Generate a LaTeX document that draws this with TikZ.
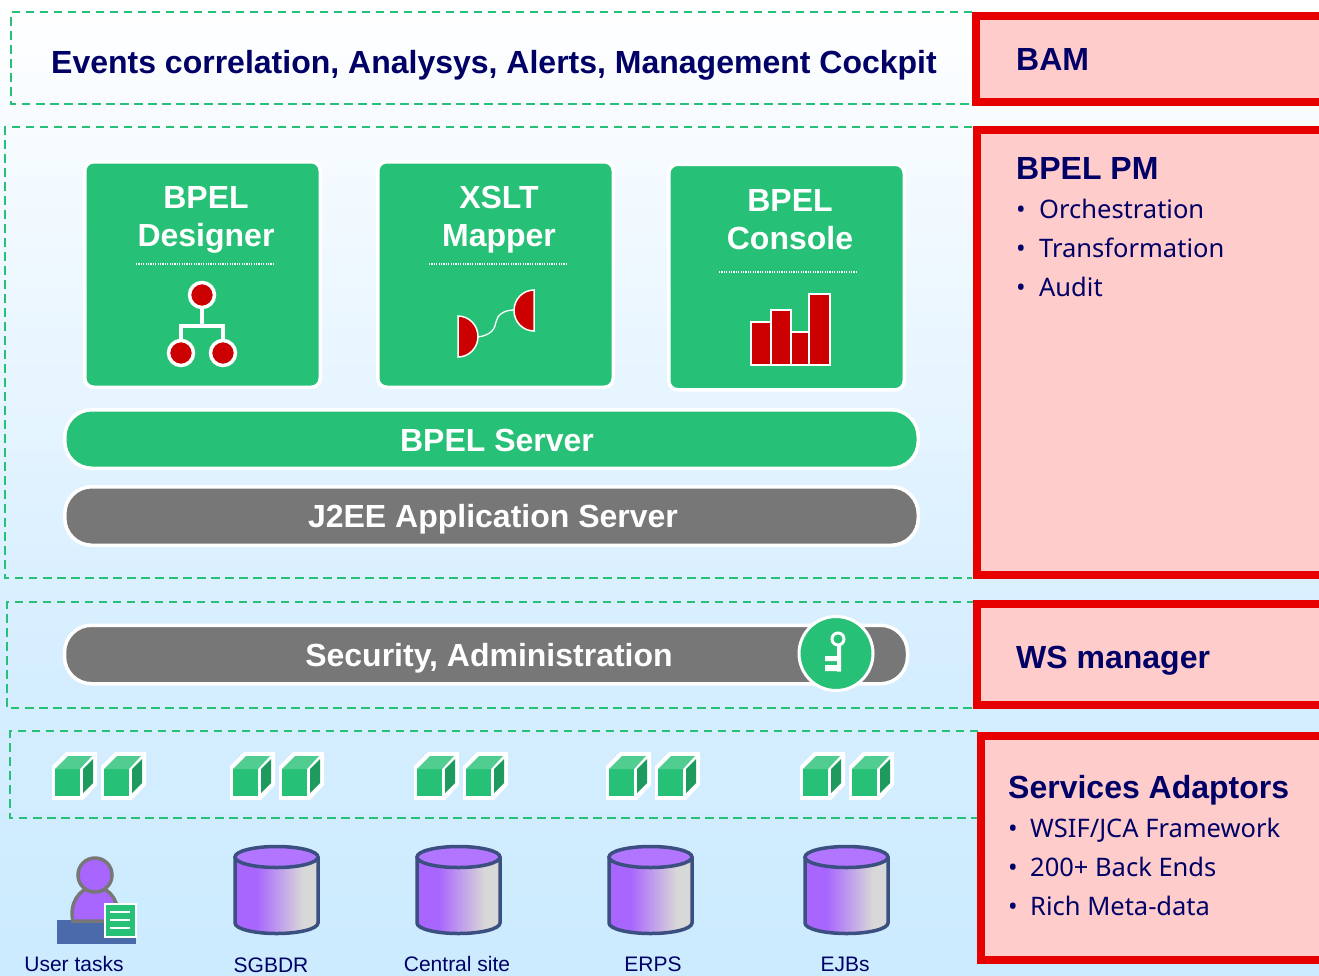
\documentclass[tikz,border=0pt]{standalone}
\usepackage{fontspec}
\setmainfont{Liberation Sans}
\newfontfamily\listfont{Noto Sans}
\usetikzlibrary{positioning}
\definecolor{tilegreen}{HTML}{27C077}
\definecolor{bargray}{HTML}{777777}
\definecolor{navy}{HTML}{000066}
\definecolor{panelred}{HTML}{E60000}
\definecolor{panelpink}{HTML}{FFCCCC}
\definecolor{iconred}{HTML}{CC0000}
\definecolor{dbblue}{HTML}{3B5080}
\definecolor{dbpurple}{HTML}{A866FF}
\definecolor{dbgray}{HTML}{D8D8D8}
\definecolor{deskblue}{HTML}{4A6AAA}
\definecolor{skymid}{HTML}{D6EEFF}
\definecolor{skylow}{HTML}{CCEBFF}
\pgfdeclarehorizontalshading{dbside}{100bp}{color(0bp)=(dbpurple); color(38bp)=(dbpurple); color(66bp)=(dbgray); color(100bp)=(dbgray)}

\begin{document}
\begin{tikzpicture}[
            x = 1pt,
            y = -1pt,
            node distance = 10pt,
            line join = miter
        ]

        \tikzstyle{layer}=[draw = tilegreen, line width = 2pt, dash pattern = on 8.5pt off 5.5pt]
        \tikzstyle{panel}=[draw = panelred, fill = panelpink, line width = 8pt]
        \tikzstyle{tile}=[draw = white, fill = tilegreen, line width = 3.5pt, rounded corners = 9pt,
            minimum width = 235.5pt, minimum height = 225.5pt, inner sep = 0pt, outer sep = 0pt]
        \tikzstyle{tiletext}=[text = white, font = \fontsize{32}{38}\selectfont\bfseries, inner sep = 0pt, anchor = base]
        \tikzstyle{bar}=[draw = white, line width = 3.5pt, rounded corners = 27pt, inner sep = 0pt, outer sep = 0pt,
            minimum width = 853.5pt, minimum height = 58.5pt]
        \tikzstyle{bartext}=[text = white, font = \fontsize{32}{38}\selectfont\bfseries, inner sep = 0pt, anchor = base]
        \tikzstyle{paneltitle}=[text = navy, font = \fontsize{32}{38}\selectfont\bfseries, inner sep = 0pt, anchor = base west]
        \tikzstyle{paneltext}=[text = navy, font = \listfont\fontsize{25.5}{31}\selectfont, inner sep = 0pt, anchor = base west]
        \tikzstyle{sitelabel}=[text = navy, font = \fontsize{21}{25}\selectfont, inner sep = 0pt, anchor = base]
        \tikzstyle{dot}=[circle, draw = white, fill = iconred, line width = 3.5pt, minimum size = 25pt, inner sep = 0pt, outer sep = 0pt]
        \tikzstyle{rule}=[draw = white, line width = 1.2pt, dash pattern = on 1.2pt off 1.2pt]
        \tikzstyle{block}=[draw = white, fill = iconred, line width = 2pt]

        % background
        \shade[top color = white, bottom color = skymid] (0,0) rectangle (1319,650);
        \shade[top color = skymid, bottom color = skylow] (0,650) rectangle (1319,975);
        \useasboundingbox (0,0) rectangle (1319,975);

        % layers
        \draw[layer] (972,12) -| (11,104) -- (972,104);
        \draw[layer] (972,127) -| (5,578) -- (972,578);
        \draw[layer] (975,602) -| (7,708) -- (975,708);
        \draw[layer] (978,731) -| (10,818) -- (978,818);

        % panels
        \draw[panel] (1319,16) -| (976,102) -- (1319,102);
        \draw[panel] (1319,130) -| (977,575) -- (1319,575);
        \draw[panel] (1319,604) -| (977,705) -- (1319,705);
        \draw[panel] (1319,736) -| (981,960) -- (1319,960);

        % top line
        \node[paneltitle] (cockpit) at (51,73) {Events correlation, Analysys, Alerts, Management Cockpit};
        \node[paneltitle] (bam) at (1016,70) {BAM};

        % tools
        \node[tile] (designer) at (202.5,274.5) {};
        \node[tile] (mapper) [right=57.5pt of designer] {};
        \node[tile] (console) at (786.5,277) {};

        \node[tiletext] (designerA) at (206,208) {BPEL};
        \node[tiletext] (designerB) at (206,246) {Designer};
        \node[tiletext] (mapperA) at (499,208) {XSLT};
        \node[tiletext] (mapperB) at (499,246) {Mapper};
        \node[tiletext] (consoleA) at (790,211) {BPEL};
        \node[tiletext] (consoleB) at (790,249) {Console};

        \draw[rule] (136,264) -- (274,264);
        \draw[rule] (429,264) -- (567,264);
        \draw[rule] (719,272) -- (858,272);

        % tree icon
        \node[dot] (treeT) at (202,295) {};
        \node[dot] (treeL) at (181,353) {};
        \node[dot] (treeR) at (223,353) {};
        \coordinate (treeM) at (202,326);
        \draw[white, line width = 3.5pt] (treeT) -- (treeM);
        \draw[white, line width = 3.5pt] (treeL) |- (treeM) -| (treeR);

        % mapper icon
        \draw[block, line width = 1.5pt] (458,316) arc (90:-90:20 and -20.5) -- cycle;
        \draw[block, line width = 1.5pt] (534,290) arc (90:270:20 and -20.5) -- cycle;
        \coordinate (plugL) at (478,337);
        \coordinate (plugR) at (514,310);
        \draw[white, line width = 1.3pt] (plugL) .. controls (492,335) and (495,328) .. (496,322)
            .. controls (497,315) and (504,310) .. (plugR);

        % chart icon
        \draw[block] (751,322) rectangle (771,365);
        \draw[block] (771,310) rectangle (791,365);
        \draw[block] (791,332) rectangle (809,365);
        \draw[block] (809,294) rectangle (830,365);

        % servers
        \node[bar, fill = tilegreen] (server) at (491.5,439) {};
        \node[bar, fill = bargray] (j2ee) [below=18.5pt of server] {};
        \node[bar, fill = bargray, minimum width = 843pt] (security) at (486,654.5) {};
        \node[bartext] (serverT) at (497,451) {BPEL Server};
        \node[bartext] (j2eeT) at (493,527) {J2EE Application Server};
        \node[bartext] (securityT) at (489,666) {Security, Administration};

        % key
        \node[circle, draw = white, fill = tilegreen, line width = 3pt, minimum size = 74pt, inner sep = 0pt] (keyring) at (836,653.5) {};
        \draw[white, line width = 3pt] (838,639) circle (6);
        \fill[white] (837,645) rectangle (841,671.5) (825,656) rectangle (838,661) (825,665) rectangle (838,671);

        % panel texts
        \node[paneltitle] (pm) at (1016,179) {BPEL PM};
        \node[paneltext] at (1016,218) {\makebox[23pt][l]{•}Orchestration};
        \node[paneltext] at (1016,257) {\makebox[23pt][l]{•}Transformation};
        \node[paneltext] at (1016,296) {\makebox[23pt][l]{•}Audit};
        \node[paneltitle] (ws) at (1016,668) {WS manager};
        \node[paneltitle] (adaptors) at (1008,798) {Services Adaptors};
        \node[paneltext] at (1008,837) {\makebox[22pt][l]{•}WSIF/JCA Framework};
        \node[paneltext] at (1008,876) {\makebox[22pt][l]{•}200+ Back Ends};
        \node[paneltext] at (1008,915) {\makebox[22pt][l]{•}Rich Meta-data};

        % adapters
        \foreach \x in {0,49,178,227,362,411,554,603,748,797}{
            \begin{scope}[xshift = \x pt]
                \fill[white] (52,800) -- (83,800) -- (97,785) -- (97,752) -- (66,752) -- (52,766) -- cycle;
                \fill[tilegreen] (55,769) rectangle (80,796);
                \fill[tilegreen!80!white] (55,769) -- (80,769) -- (92,756) -- (68,756) -- cycle;
                \fill[tilegreen!80!black] (83,769) -- (93,759) -- (93,783) -- (83,793) -- cycle;
            \end{scope}
        }

        % user
        \fill[deskblue] (57,920) rectangle (136,944);
        \draw[draw = bargray, fill = dbpurple, line width = 3.5pt] (73,921) .. controls (69,905) and (78,888) .. (95,886)
            .. controls (112,888) and (121,905) .. (117,921) -- cycle;
        \draw[draw = bargray, fill = dbpurple, line width = 3.5pt] (95,875) circle (17);
        \node[draw = white, fill = tilegreen, line width = 2pt, minimum width = 31pt, minimum height = 33pt, inner sep = 0pt] (note) at (120,920.5) {};
        \foreach \y in {912,920,928}
            \draw[white, line width = 1.5pt] (110,\y) -- (130,\y);

        % data stores
        \foreach \x in {0,182,374,570}{
            \begin{scope}[xshift = \x pt]
                \shade[shading = dbside]
                    (235,857) -- (235,923) arc (180:360:41.5 and -10.5) -- (318,857) -- cycle;
                \draw[dbblue, line width = 3.5pt] (235,857) -- (235,923) arc (180:360:41.5 and -10.5) -- (318,857);
                \draw[dbblue, fill = dbpurple!90!white, line width = 3.5pt] (276.5,857) ellipse (41.5 and 10.5);
            \end{scope}
        }

        \node[sitelabel] (tasks) at (74,971) {User tasks};
        \node[sitelabel] (sgbdr) at (271,972) {SGBDR};
        \node[sitelabel] (central) at (457,971) {Central site};
        \node[sitelabel] (erps) at (653,971) {ERPS};
        \node[sitelabel] (ejbs) at (845,971) {EJBs};

  \end{tikzpicture}
\end{document}
